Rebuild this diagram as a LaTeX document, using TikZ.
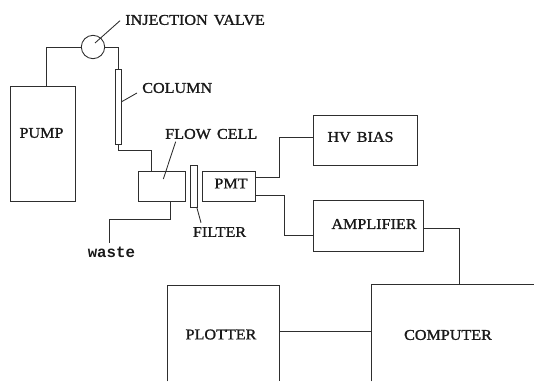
\documentclass[tikz,border=0pt]{standalone}
\usepackage{fontspec}
\setmainfont{Liberation Serif}[FakeStretch=1.08,FakeBold=1.3,WordSpace=1.5]
\newfontfamily\wastefont{Liberation Mono Bold}
\tikzset{
  px/.style={x=0.75pt,y=-0.75pt},
  box/.style={draw=black!82,line width=0.65pt,inner sep=0pt,rectangle},
  ghost/.style={inner sep=0pt,rectangle},
  lbl/.style={inner sep=0pt,font=\fontsize{11.2}{13}\selectfont,text=black!90},
  wire/.style={draw=black!82,line width=0.65pt}
}
\begin{document}
\begin{tikzpicture}[px]
\useasboundingbox (0,0) rectangle (534,381);
\node[box,minimum width=48.4pt,minimum height=86.8pt] (pump) at (42.75,143.85) {};
\node[box,circle,minimum size=17.5pt] (valve) at (93,47) {};
\node[box,minimum width=4.9pt,minimum height=56.25pt] (column) at (118.25,106.5) {};
\node[box,minimum width=35.8pt,minimum height=22pt] (cell) at (161.85,186.35) {};
\node[box,minimum width=5.5pt,minimum height=31pt] (filter) at (193.65,186.35) {};
\node[box,minimum width=40.3pt,minimum height=22pt] (pmt) at (228.85,186.35) {};
\node[box,minimum width=78pt,minimum height=38pt] (hv) at (365.7,140.35) {};
\node[box,minimum width=82.5pt,minimum height=38.5pt] (amp) at (368.3,226) {};
\node[ghost,minimum width=83.8pt,minimum height=71.5pt] (plotter) at (223.15,333.35) {};
\node[ghost,minimum width=122pt,minimum height=72pt] (computer) at (452.65,333) {};
% open-bottomed boxes, cut by the page edge
\draw[wire] (plotter.south west) |- (plotter.north east) -- (plotter.south east);
\draw[wire] (computer.south west) |- (computer.north east);
\node[lbl] at (41.5,133) {PUMP};
\node[lbl] at (231,183.5) {PMT};
\node[lbl] at (360.5,137) {HV BIAS};
\node[lbl] at (374,224) {AMPLIFIER};
\node[lbl] at (221,334.5) {PLOTTER};
\node[lbl] at (448,335) {COMPUTER};
\node[lbl,anchor=west] (ivl) at (125,20) {INJECTION VALVE};
\node[lbl,anchor=west] (coll) at (142,88) {COLUMN};
\node[lbl,anchor=west] (fcl) at (165,134) {FLOW CELL};
\node[lbl,anchor=west] (fil) at (192.7,232) {FILTER};
\node[lbl,anchor=west,font=\fontsize{11.8}{13}\selectfont\wastefont] (waste) at (87.5,252) {waste};
\coordinate (ivA) at (120,20.7);
\coordinate (ivB) at (95,43);
\coordinate (coA) at (137,93);
\coordinate (coB) at (121.7,101.7);
\coordinate (fcA) at (175.7,141.7);
\coordinate (fcB) at (163.3,179);
\coordinate (fiA) at (196.7,207);
\coordinate (fiB) at (201,222.7);
\coordinate (wsA) at (109.3,242.7);
\draw[wire] (46,85.9) |- (valve.west);
\draw[wire] (valve.east) -| (column.north);
\draw[wire] (column.south) |- (151.7,150) -- (151.7,171.7);
\draw[wire] (170,201) -- (170,219) -| (wsA);
\draw[wire] (pmt.east |- 0,177.7) -| (279,137.7) -- (hv.west |- 0,137.7);
\draw[wire] (pmt.east |- 0,195) -- (284.3,195) |- (amp.west |- 0,235);
\draw[wire] (amp.east |- 0,228.3) -| (459.3,285);
\draw[wire] (plotter.east |- 0,331) -- (computer.west |- 0,331);
\draw[wire] (ivA) -- (ivB);
\draw[wire] (coA) -- (coB);
\draw[wire] (fcA) -- (fcB);
\draw[wire] (fiA) -- (fiB);
\end{tikzpicture}
\end{document}
